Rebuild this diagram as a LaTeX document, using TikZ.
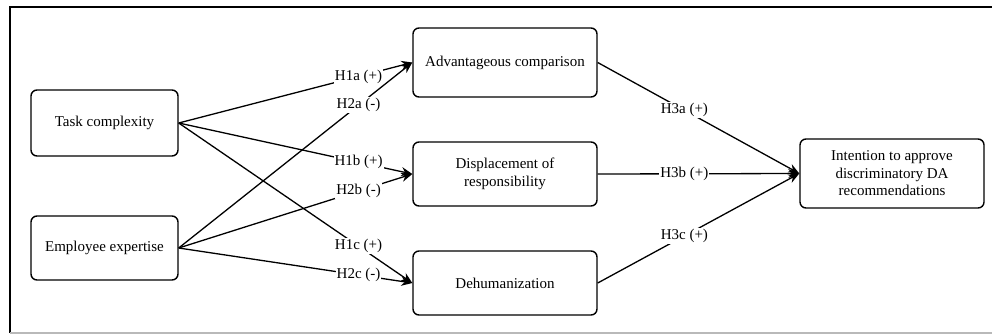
\documentclass[tikz,border=0pt]{standalone}
\usepackage{fontspec}
\setmainfont{Liberation Serif}
\usetikzlibrary{arrows.meta}
\begin{document}
\begin{tikzpicture}[x=1pt,y=-1pt,
  every node/.style={font=\fontsize{15}{17.5}\selectfont},
  box/.style={draw, line width=1.4pt, rounded corners=6pt, align=center, inner sep=0pt},
  hyp/.style={-{Stealth[length=11pt,width=9pt]}, line width=1.3pt},
  lbl/.style={fill=white, inner sep=1pt, pos=0.77},
  lblr/.style={fill=white, inner sep=1pt, pos=0.43}]
\useasboundingbox (0,0) rectangle (992,335);
% frame
\draw[line width=1.2pt] (10,333) -- (10,7) -- (992,7);
\draw[gray!55, line width=1.2pt] (10,333) -- (992,333);
% antecedents
\node[box, minimum width=147, minimum height=66] (task) at (104.5,123) {Task complexity};
\node[box, minimum width=147, minimum height=64] (expert) at (104.5,248) {Employee expertise};
% mediators
\node[box, minimum width=184, minimum height=69] (adv) at (505,62.5) {Advantageous comparison};
\node[box, minimum width=184, minimum height=64] (displ) at (505,174) {Displacement of\\responsibility};
\node[box, minimum width=184, minimum height=64] (dehum) at (505,283) {Dehumanization};
% outcome
\node[box, minimum width=184, minimum height=69] (intent) at (892,173.5) {Intention to approve\\discriminatory DA\\recommendations};
% H1 / H2
\draw[hyp] (task.east) -- node[lbl] {H1a (+)} (adv.west);
\draw[hyp] (expert.east) -- node[lbl] {H2a (-)} (adv.west);
\draw[hyp] (task.east) -- node[lbl] {H1b (+)} (displ.west);
\draw[hyp] (expert.east) -- node[lbl] {H2b (-)} (displ.west);
\draw[hyp] (task.east) -- node[lbl] {H1c (+)} (dehum.west);
\draw[hyp] (expert.east) -- node[lbl] {H2c (-)} (dehum.west);
% H3
\draw[hyp] (adv.east) -- node[lblr] {H3a (+)} (intent.west);
\draw[hyp] (displ.east) -- node[lblr] {H3b (+)} (intent.west);
\draw[hyp] (dehum.east) -- node[lblr] {H3c (+)} (intent.west);
\end{tikzpicture}
\end{document}
